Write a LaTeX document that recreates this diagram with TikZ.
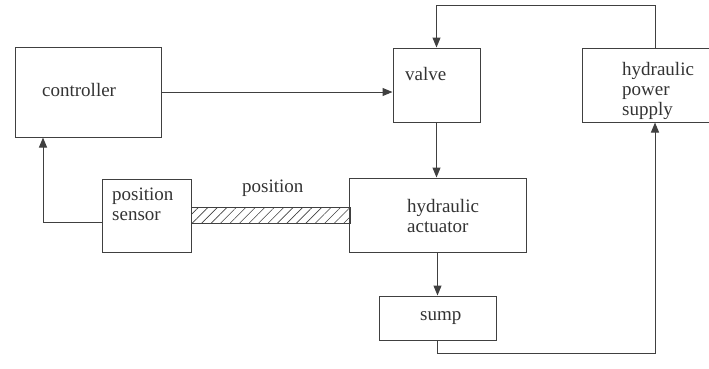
\documentclass[tikz,border=0pt]{standalone}
\usepackage{fontspec}
\setmainfont{Liberation Serif}
\usetikzlibrary{arrows.meta,patterns.meta}

\begin{document}
\begin{tikzpicture}[x=1pt, y=-1pt,
    block/.style={draw=black!75, line width=1pt, inner sep=0pt},
    txt/.style={text=black!80, font=\fontsize{19}{20}\selectfont, inner sep=0pt, align=left, anchor=base west},
    wire/.style={draw=black!75, line width=1pt},
    arr/.style={wire, -{Triangle[length=10pt,width=8pt]}}]
  \useasboundingbox (0,0) rectangle (709,368);

  % blocks
  \node[block, minimum width=146pt, minimum height=90pt] (controller) at (88,92) {};
  \node[block, minimum width=87pt, minimum height=74pt] (valve) at (436.5,85) {};
  \node[block, minimum width=146pt, minimum height=74pt] (hps) at (655,85) {};
  \node[block, minimum width=89pt, minimum height=73pt] (sensor) at (146.5,215.5) {};
  \node[block, minimum width=177pt, minimum height=74pt] (actuator) at (437.5,215) {};
  \node[block, minimum width=117pt, minimum height=44pt] (sump) at (437.5,318) {};
  \node[block, minimum width=159pt, minimum height=16pt,
        pattern={Lines[angle=45,distance=6.7pt,line width=0.6pt]}, pattern color=black!75] (rod) at (270.5,215) {};

  % texts (multi-line nodes sit on their last baseline)
  \node[txt] (controller-t) at (42,96) {controller};
  \node[txt] (valve-t) at (405,80) {valve};
  \node[txt] (hps-t) at (622,115) {hydraulic\\power\\supply};
  \node[txt] (sensor-t) at (112,220) {position\\sensor};
  \node[txt] (rod-t) at (242,192) {position};
  \node[txt] (actuator-t) at (407,232) {hydraulic\\actuator};
  \node[txt] (sump-t) at (420,320) {sump};

  % lines
  \coordinate (topline) at (0,5);
  \coordinate (bottomline) at (0,353);
  \coordinate (leftline) at (43,0);
  \draw[arr] (controller.east) -- (controller.east -| valve.west);
  \draw[arr] (hps.north) -- (hps.north |- topline) -- (valve.north |- topline) -- (valve.north);
  \draw[arr] (valve.south) -- (valve.south |- actuator.north);
  \draw[arr] (actuator.south) -- (actuator.south |- sump.north);
  \draw[arr] (sump.south) -- (sump.south |- bottomline) -| (hps.south);
  \draw[arr] ([yshift=-6.5pt]sensor.west) -| (leftline |- controller.south);
\end{tikzpicture}
\end{document}
